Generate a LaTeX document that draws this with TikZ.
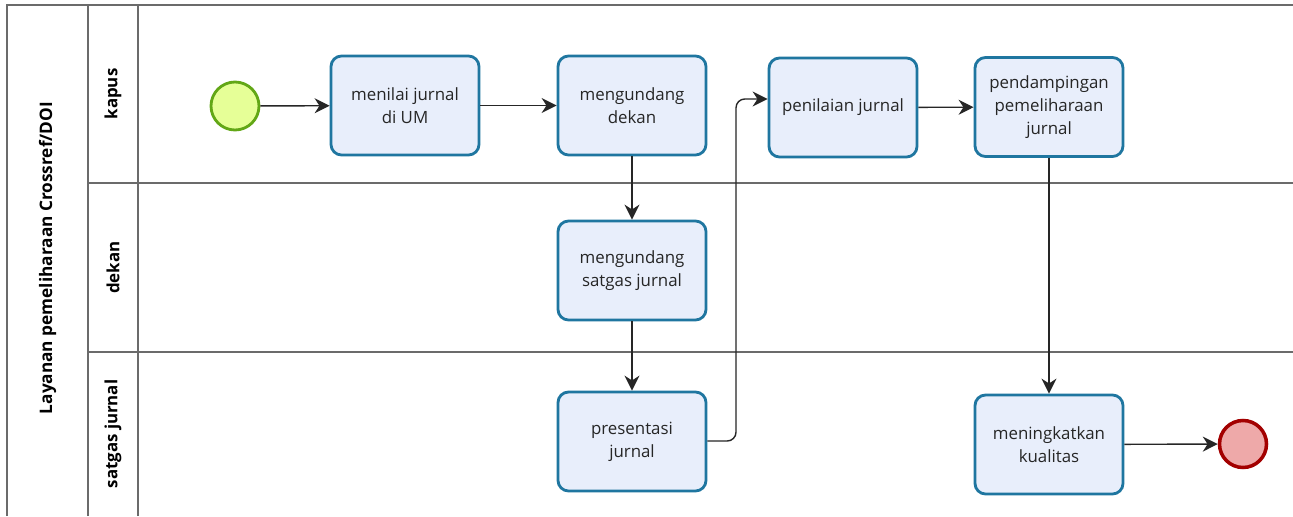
\documentclass[tikz,border=0pt]{standalone}
\usepackage{fontspec}
\setmainfont{Open Sans}
\usetikzlibrary{arrows.meta}
\definecolor{TaskFill}{HTML}{E8EEFB}
\definecolor{TaskLine}{HTML}{1F76A0}
\definecolor{StartFill}{HTML}{E6FF97}
\definecolor{StartLine}{HTML}{62A716}
\definecolor{EndFill}{HTML}{EEA9A9}
\definecolor{EndLine}{HTML}{A30000}
\definecolor{LaneLine}{HTML}{6B6B6B}

\tikzset{
  task/.style={rectangle,rounded corners=6pt,draw=TaskLine,fill=TaskFill,line width=1.6pt,
    minimum width=2.96cm,minimum height=1.98cm,align=center,font=\fontsize{9.6}{13}\selectfont,text=black!85},
  startev/.style={circle,draw=StartLine,fill=StartFill,line width=1.6pt,minimum size=0.96cm,inner sep=0pt},
  endev/.style={circle,draw=EndLine,fill=EndFill,line width=2pt,minimum size=0.94cm,inner sep=0pt},
  flow/.style={-{Stealth[length=0.3cm,width=0.3cm]},line width=0.8pt,black!85},
  lanelbl/.style={rotate=90,font=\bfseries\fontsize{9.6}{11}\selectfont},
}

\begin{document}
\begin{tikzpicture}
        \useasboundingbox (0,0) rectangle (25.86,10.32);
        \fill[white] (0,0) rectangle (25.86,10.32);
        % pool and lanes
        \draw[LaneLine,line width=0.8pt] (0.14,0) -- (0.14,10.22) -- (25.86,10.22);
        \draw[LaneLine,line width=0.8pt] (1.76,0) -- (1.76,10.22);
        \draw[LaneLine,line width=0.8pt] (2.76,0) -- (2.76,10.22);
        \draw[LaneLine,line width=0.8pt] (1.76,6.66) -- (25.86,6.66);
        \draw[LaneLine,line width=0.8pt] (1.76,3.28) -- (25.86,3.28);
        \node[lanelbl,font=\bfseries\fontsize{9.8}{11}\selectfont] (pool) at (0.95,5.16) {Layanan pemeliharaan Crossref/DOI};
        \node[lanelbl] (lkapus) at (2.26,8.44) {kapus};
        \node[lanelbl] (ldekan) at (2.26,4.97) {dekan};
        \node[lanelbl] (lsatgas) at (2.26,1.64) {satgas jurnal};
        % events and tasks
        \node[startev] (start) at (4.70,8.20) {};
        \node[task] (menilai) at (8.10,8.21) {menilai jurnal\\di UM};
        \node[task] (undangdekan) at (12.64,8.21) {mengundang\\dekan};
        \node[task] (penilaian) at (16.86,8.17) {penilaian jurnal};
        \node[task] (pendampingan) at (20.98,8.18) {pendampingan\\pemeliharaan\\jurnal};
        \node[task] (undangsatgas) at (12.64,4.91) {mengundang\\satgas jurnal};
        \node[task] (presentasi) at (12.64,1.49) {presentasi\\jurnal};
        \node[task] (kualitas) at (20.98,1.43) {meningkatkan\\kualitas};
        \node[endev] (end) at (24.86,1.44) {};
        % flows
        \draw[flow] (start) -- (menilai);
        \draw[flow] (menilai) -- (undangdekan);
        \draw[flow] (undangdekan) -- (undangsatgas);
        \draw[flow] (undangsatgas) -- (presentasi);
        \coordinate (elbow) at (14.72,8.34);
        \draw[flow,rounded corners=5pt] (presentasi.east |- 0,1.50) -| (elbow) -- (penilaian.west |- elbow);
        \draw[flow] (penilaian) -- (pendampingan);
        \draw[flow] (pendampingan) -- (kualitas);
        \draw[flow] (kualitas) -- (end);
      \end{tikzpicture}
\end{document}
